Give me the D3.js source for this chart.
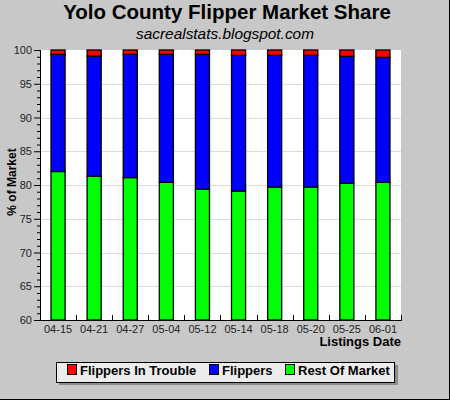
<!DOCTYPE html>
<html><head><meta charset="utf-8">
<script src="https://cdn.jsdelivr.net/npm/d3@7"></script>
<style>html,body{margin:0;padding:0;background:#c8c8c8;}svg{display:block;font-family:"Liberation Sans",Arial,sans-serif;}</style>
</head><body>
<script>
const dates = ["04-15","04-21","04-27","05-04","05-12","05-14","05-18","05-20","05-25","06-01"];
const restOfMarket = [82.0, 81.3, 81.1, 80.4, 79.4, 79.1, 79.7, 79.7, 80.25, 80.4];
const flippers = [17.35, 17.8, 18.25, 18.95, 19.95, 20.1, 19.5, 19.5, 18.8, 18.5];
const flippersInTrouble = [0.65, 0.9, 0.65, 0.65, 0.65, 0.8, 0.8, 0.8, 0.95, 1.1];
const yTicks = [60, 65, 70, 75, 80, 85, 90, 95, 100];
const seriesNames = ["Rest Of Market", "Flippers", "Flippers In Trouble"];
const seriesColors = ["#00ff00", "#0000ff", "#ff0000"];

const W = 450, H = 400;
const m = {left: 40, right: 49, top: 50, bottom: 80};
const svg = d3.select("body").append("svg").attr("width", W).attr("height", H);
svg.append("rect").attr("width", W).attr("height", H).attr("fill", "#c8c8c8");
svg.append("line").attr("x1", W-0.5).attr("x2", W-0.5).attr("y1", 0).attr("y2", H).attr("stroke", "#000");
svg.append("line").attr("x1", 0).attr("x2", W).attr("y1", H-0.5).attr("y2", H-0.5).attr("stroke", "#000");

const x = d3.scaleBand().domain(dates).range([m.left, W - m.right]).paddingInner(0.61).paddingOuter(0.305);
const y = d3.scaleLinear().domain([60, 100]).range([H - m.bottom, m.top]);

svg.append("rect").attr("x", m.left).attr("y", m.top).attr("width", W - m.right - m.left).attr("height", H - m.bottom - m.top).attr("fill", "#fff");

// grid
svg.append("g").selectAll("line").data(yTicks.filter(t => t > 60 && t < 100)).join("line")
  .attr("x1", m.left).attr("x2", W - m.right)
  .attr("y1", d => Math.round(y(d)) + 0.5).attr("y2", d => Math.round(y(d)) + 0.5)
  .attr("stroke", "#dcdcdc");

// stacked data
const table = dates.map((d, i) => ({date: d, "Rest Of Market": restOfMarket[i], "Flippers": flippers[i], "Flippers In Trouble": flippersInTrouble[i]}));
const stack = d3.stack().keys(seriesNames)(table);
svg.append("g").selectAll("g").data(stack).join("g")
  .attr("fill", (d, i) => seriesColors[i])
  .selectAll("rect").data(d => d).join("rect")
  .attr("x", d => x(d.data.date))
  .attr("width", x.bandwidth())
  .attr("y", d => y(Math.min(100, d[1])))
  .attr("height", d => y(Math.max(60, d[0])) - y(Math.min(100, d[1])))
  .attr("stroke", "#000").attr("stroke-width", 1.3);

// y axis
const yAxis = d3.axisLeft(y).tickValues(yTicks).tickSize(6).tickPadding(2).tickFormat(d3.format("d"));
const gy = svg.append("g").attr("transform", `translate(${m.left},0)`).call(yAxis);
gy.select(".domain").remove();
gy.selectAll("text").attr("font-size", 11).attr("fill", "#222").attr("font-family", "Liberation Sans, Arial, sans-serif");
const minor = d3.axisLeft(y).tickValues(d3.range(60, 101, 1).filter(v => v % 5 !== 0)).tickSize(3).tickFormat("");
const gm = svg.append("g").attr("transform", `translate(${m.left},0)`).call(minor);
gm.select(".domain").remove();
svg.append("line").attr("x1", m.left + 0.5).attr("x2", m.left + 0.5).attr("y1", m.top).attr("y2", H - m.bottom).attr("stroke", "#000");

// x axis
const xAxis = d3.axisBottom(x).tickSize(0).tickPadding(5);
const gx = svg.append("g").attr("transform", `translate(0,${H - m.bottom})`).call(xAxis);
gx.select(".domain").remove();
gx.selectAll("text").attr("font-size", 11).attr("fill", "#222").attr("font-family", "Liberation Sans, Arial, sans-serif");
const bounds = dates.map(d => x(d) - x.step() * x.paddingInner() / 2).concat([W - m.right]);
svg.append("g").selectAll("line").data(bounds).join("line")
  .attr("x1", d => Math.round(d) + 0.5).attr("x2", d => Math.round(d) + 0.5)
  .attr("y1", H - m.bottom).attr("y2", H - m.bottom - 5).attr("stroke", "#000");
svg.append("line").attr("x1", m.left).attr("x2", W - m.right + 1).attr("y1", H - m.bottom + 0.5).attr("y2", H - m.bottom + 0.5).attr("stroke", "#000");

// titles
svg.append("text").attr("x", 227).attr("y", 18.5).attr("text-anchor", "middle")
  .attr("font-size", 20.5).attr("font-weight", "bold").attr("fill", "#000").text("Yolo County Flipper Market Share");
svg.append("text").attr("x", 225).attr("y", 38.5).attr("text-anchor", "middle")
  .attr("font-size", 15.4).attr("font-style", "italic").attr("fill", "#000").text("sacrealstats.blogspot.com");
svg.append("text").attr("transform", "translate(16,182) rotate(-90)").attr("text-anchor", "middle")
  .attr("font-size", 12).attr("font-weight", "bold").attr("fill", "#000").text("% of Market");
svg.append("text").attr("x", 401).attr("y", 346).attr("text-anchor", "end")
  .attr("font-size", 13).attr("font-weight", "bold").attr("fill", "#000").text("Listings Date");

// legend
const lg = svg.append("g");
lg.append("rect").attr("x", 59).attr("y", 365).attr("width", 339).attr("height", 20).attr("fill", "#8c8c8c");
lg.append("rect").attr("x", 56.5).attr("y", 362.5).attr("width", 338).attr("height", 20).attr("fill", "#ececec").attr("stroke", "#000");
const legendItems = [
  {name: "Flippers In Trouble", color: seriesColors[2], x: 67},
  {name: "Flippers", color: seriesColors[1], x: 209},
  {name: "Rest Of Market", color: seriesColors[0], x: 285}
];
const li = lg.selectAll("g.item").data(legendItems).join("g").attr("class", "item");
li.append("rect").attr("x", d => d.x + 0.5).attr("y", 364.5).attr("width", 9).attr("height", 10)
  .attr("fill", d => d.color).attr("stroke", "#000");
li.append("text").attr("x", d => d.x + 13).attr("y", 375).attr("font-size", 13).attr("font-weight", "bold")
  .attr("fill", "#000").text(d => d.name);
</script>
</body></html>
